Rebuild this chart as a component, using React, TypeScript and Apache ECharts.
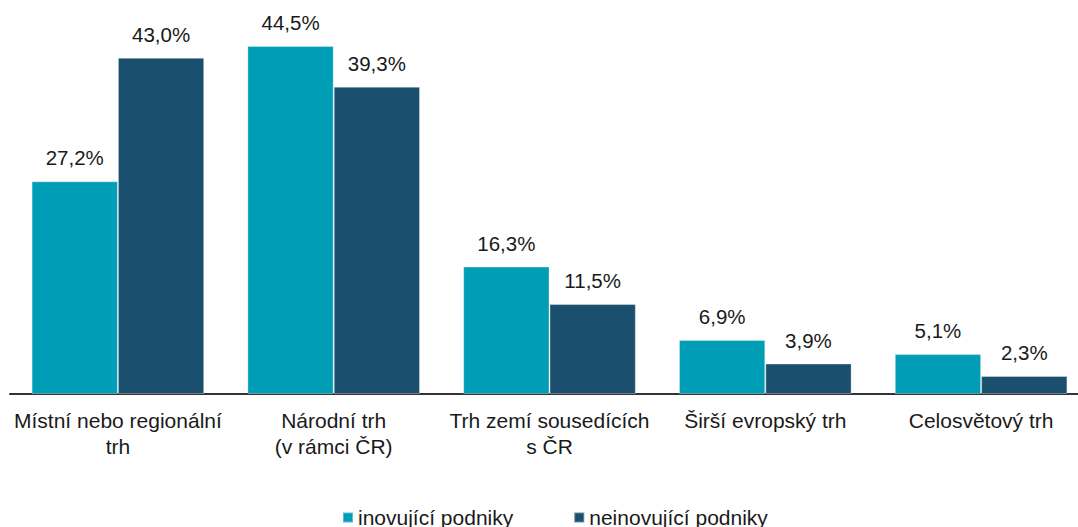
import React, { useEffect, useRef } from "react";
import * as echarts from "echarts";

const categories = [
  "Místní nebo regionální\ntrh",
  "Národní trh\n(v rámci ČR)",
  "Trh zemí sousedících\ns ČR",
  "Širší evropský trh",
  "Celosvětový trh",
];
const seriesNames = ["inovující podniky", "neinovující podniky"];
const innovating = [27.2, 44.5, 16.3, 6.9, 5.1];
const nonInnovating = [43.0, 39.3, 11.5, 3.9, 2.3];
const colors = ["#009db6", "#1a4f6e"];

const FONT = "Arial, 'Liberation Sans', sans-serif";

export default function App() {
  const ref = useRef<HTMLDivElement>(null);
  useEffect(() => {
    if (!ref.current) return;
    const chart = echarts.init(ref.current, undefined, { renderer: "svg" });
    const fmt = (p: any) => p.value.toFixed(1).replace(".", ",") + "%";
    const mk = (name: string, data: number[], color: string) => ({
      name,
      type: "bar",
      data,
      barGap: "0%",
      barCategoryGap: "20%",
      itemStyle: { color, borderColor: "rgba(255,255,255,0.35)", borderWidth: 1 },
      label: {
        show: true,
        position: "top",
        distance: 13,
        formatter: fmt,
        color: "#1a1a1a",
        fontSize: 20.5,
        fontFamily: FONT,
      },
    });
    chart.setOption({
      animation: false,
      textStyle: { fontFamily: FONT },
      grid: { left: 10, width: 1079, top: 3, bottom: 133, containLabel: false },
      legend: {
        left: 337,
        top: 502,
        itemWidth: 10,
        itemHeight: 10,
        itemGap: 60,
        icon: "rect",
        textStyle: { fontSize: 21, color: "#1a1a1a", fontFamily: FONT },
        data: seriesNames,
      },
      xAxis: {
        type: "category",
        data: categories,
        axisLine: { lineStyle: { color: "#333333", width: 2 } },
        axisTick: { show: false },
        axisLabel: {
          interval: 0,
          margin: 13,
          fontSize: 21,
          lineHeight: 26,
          color: "#1a1a1a",
          fontFamily: FONT,
        },
      },
      yAxis: {
        type: "value",
        min: 0,
        max: 50,
        show: false,
        splitLine: { show: false },
      },
      series: [
        mk(seriesNames[0], innovating, colors[0]),
        mk(seriesNames[1], nonInnovating, colors[1]),
      ],
    });
    return () => chart.dispose();
  }, []);
  return (
    <div
      style={{ position: "fixed", left: 0, top: 0, width: 1078, height: 527, overflow: "hidden", background: "#ffffff" }}
    >
      <div ref={ref} style={{ width: 1100, height: 527 }} />
    </div>
  );
}
